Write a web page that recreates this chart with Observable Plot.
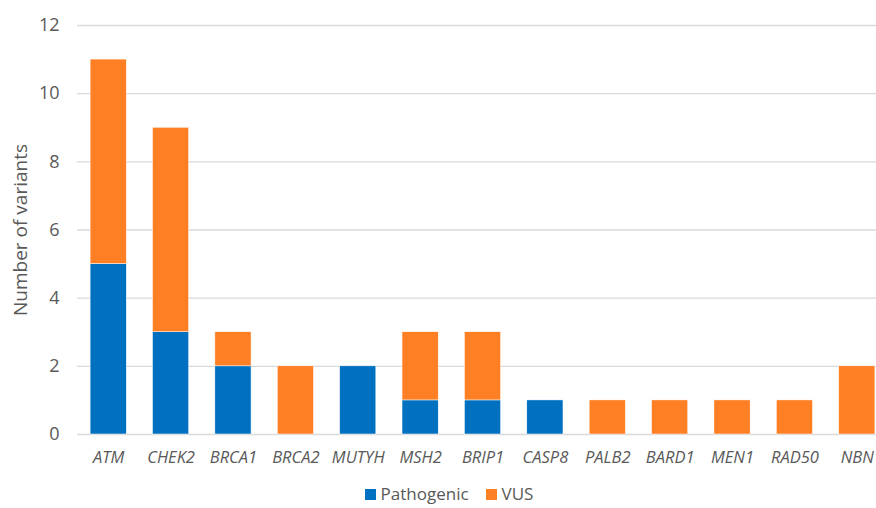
<!DOCTYPE html>
<html>
<head>
<meta charset="utf-8">
<script src="https://cdn.jsdelivr.net/npm/d3@7"></script>
<script src="https://cdn.jsdelivr.net/npm/@observablehq/plot@0.6"></script>
<style>
  body { margin: 0; background: #fff; font-family: "Open Sans", sans-serif; }
  #chart { width: 876px; height: 508px; overflow: hidden; position: relative; }
  .legend { position: absolute; left: 11px; top: 482px; width: 876px; display: flex; justify-content: center; gap: 17px; font-size: 17px; color: #595959; line-height: 24px; }
  .legend span.sw { display: inline-block; width: 11px; height: 11px; margin-right: 5px; vertical-align: 0px; }
</style>
</head>
<body>
<div id="chart"></div>
<script>
const genes = ["ATM","CHEK2","BRCA1","BRCA2","MUTYH","MSH2","BRIP1","CASP8","PALB2","BARD1","MEN1","RAD50","NBN"];
const pathogenic = [5,3,2,0,2,1,1,1,0,0,0,0,0];
const vus = [6,6,1,2,0,2,2,0,1,1,1,1,2];
const seriesNames = ["Pathogenic","VUS"];
const seriesColors = ["#0070C0","#FF7F24"];
const yTicks = [0,2,4,6,8,10,12];

const rows = [];
genes.forEach((g, i) => {
  rows.push({gene: g, series: "Pathogenic", value: pathogenic[i]});
  rows.push({gene: g, series: "VUS", value: vus[i]});
});

const plot = Plot.plot({
  width: 876,
  height: 484,
  marginLeft: 77,
  marginRight: 0,
  marginTop: 25,
  marginBottom: 50,
  style: {fontFamily: "'Open Sans', sans-serif", fontSize: "16px", color: "#595959"},
  x: {domain: genes, range: [77, 888], paddingInner: 0.42, paddingOuter: 0.21, round: false, label: null},
  y: {domain: [0, 12], label: null},
  color: {domain: seriesNames, range: seriesColors},
  marks: [
    Plot.ruleY(yTicks, {stroke: "#d9d9d9", strokeWidth: 1.3}),
    Plot.barY(rows, Plot.stackY({x: "gene", y: "value", fill: "series", order: seriesNames, stroke: "#fff", strokeWidth: 0.5, inset: 0})),
    Plot.axisX({tickSize: 0, tickPadding: 17, fontStyle: "italic", fontSize: 16.5}),
    Plot.axisY({ticks: yTicks, tickSize: 0, tickPadding: 18, fontSize: 18}),
    Plot.axisY({ticks: [], tickSize: 0, fontSize: 19, label: "Number of variants", labelAnchor: "center", labelArrow: "none", labelOffset: 64})
  ]
});
const chart = document.getElementById("chart");
chart.appendChild(plot);
const legend = document.createElement("div");
legend.className = "legend";
seriesNames.forEach((n, i) => {
  const item = document.createElement("div");
  item.innerHTML = `<span class="sw" style="background:${seriesColors[i]}"></span>${n}`;
  legend.appendChild(item);
});
chart.appendChild(legend);
</script>
</body>
</html>
